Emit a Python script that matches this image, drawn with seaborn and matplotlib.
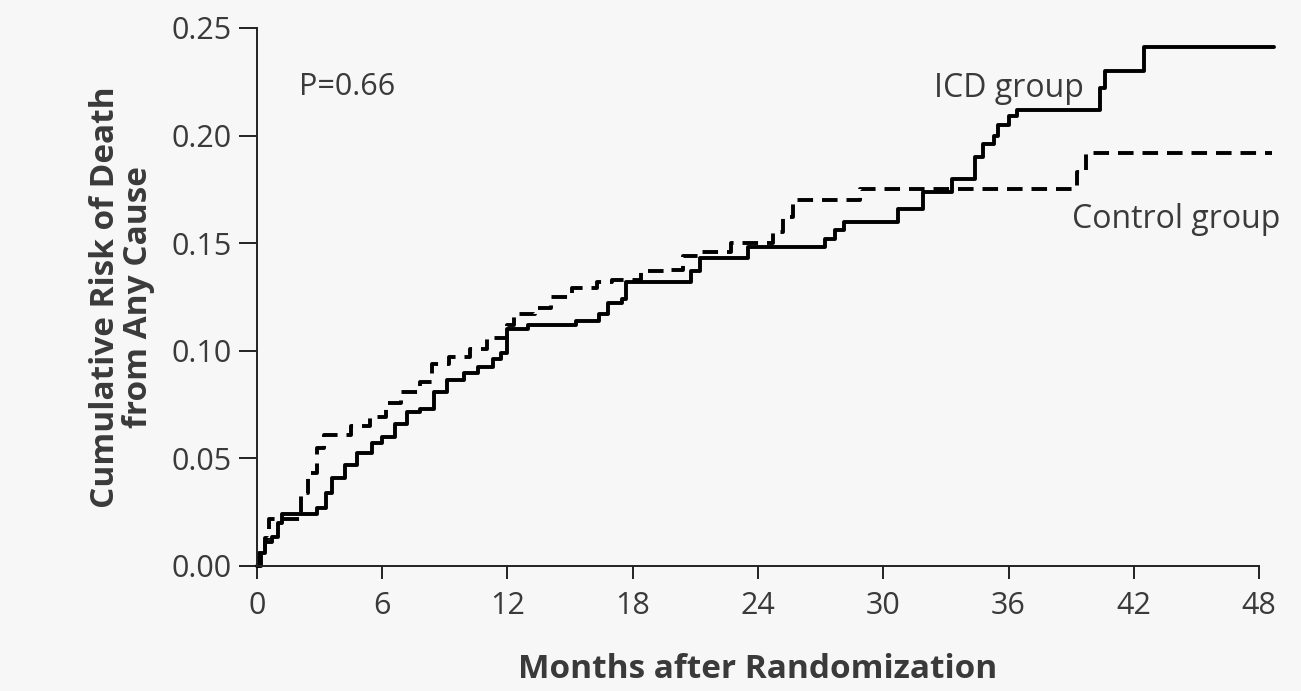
import numpy as np
import pandas as pd
import matplotlib
matplotlib.use("Agg")
import matplotlib.pyplot as plt
import seaborn as sns

sns.set_style("ticks")
plt.rcParams['font.family'] = ['Open Sans', 'DejaVu Sans']

# Kaplan-Meier style step data (months, cumulative risk)
icd_months = [0, 0.1, 0.4, 0.7, 1.0, 1.2, 2.9, 3.3, 3.6, 4.2, 4.8, 5.5, 6.0, 6.6,
              7.2, 7.8, 8.5, 9.1, 9.9, 10.6, 11.3, 11.7, 12.0, 13.0, 15.3, 16.4,
              16.8, 17.5, 17.7, 20.8, 21.2, 23.5, 27.2, 27.7, 28.1, 30.7, 31.9,
              33.3, 34.4, 34.8, 35.3, 35.5, 36.0, 36.4, 40.4, 40.6, 42.5, 48.7]
icd_risk = [0, 0.006, 0.011, 0.0135, 0.020, 0.024, 0.027, 0.034, 0.041, 0.047,
            0.0525, 0.057, 0.060, 0.066, 0.0716, 0.073, 0.081, 0.0865, 0.0897,
            0.0925, 0.096, 0.099, 0.110, 0.112, 0.114, 0.117, 0.122, 0.124,
            0.132, 0.137, 0.143, 0.148, 0.152, 0.156, 0.160, 0.166, 0.174,
            0.180, 0.190, 0.196, 0.200, 0.205, 0.209, 0.212, 0.222, 0.230,
            0.241, 0.241]

ctrl_months = [0, 0.2, 0.4, 0.6, 2.1, 2.45, 2.9, 3.2, 4.5, 5.4, 6.2, 6.9, 7.8,
               8.4, 9.2, 10.2, 11.0, 12.0, 12.3, 13.3, 14.1, 15.1, 16.3, 17.0,
               18.4, 19.6, 20.4, 21.2, 22.7, 24.7, 25.2, 25.7, 28.9, 39.3, 39.7,
               48.6]
ctrl_risk = [0, 0.008, 0.013, 0.022, 0.034, 0.043, 0.055, 0.061, 0.065, 0.069,
             0.0757, 0.081, 0.0855, 0.094, 0.097, 0.101, 0.106, 0.112, 0.117,
             0.120, 0.125, 0.129, 0.132, 0.133, 0.137, 0.1375, 0.144, 0.146,
             0.150, 0.155, 0.162, 0.170, 0.175, 0.183, 0.192, 0.192]

x_ticks = [0, 6, 12, 18, 24, 30, 36, 42, 48]
y_ticks = [0.00, 0.05, 0.10, 0.15, 0.20, 0.25]

text_col = '#3a3a3a'
bg = '#f7f7f7'

fig = plt.figure(figsize=(13.01, 6.91), dpi=100, facecolor=bg)
ax = fig.add_axes([0.1975, 0.181, 0.7815, 0.7785])
ax.set_facecolor(bg)

icd = pd.DataFrame({'month': icd_months, 'risk': icd_risk})
ctrl = pd.DataFrame({'month': ctrl_months, 'risk': ctrl_risk})

sns.lineplot(data=icd, x='month', y='risk', ax=ax, color='black', lw=2.8,
             drawstyle='steps-post', estimator=None, sort=False, clip_on=False)
sns.lineplot(data=ctrl, x='month', y='risk', ax=ax, color='black', lw=2.8,
             drawstyle='steps-post', estimator=None, sort=False, clip_on=False)
ax.lines[1].set_dashes((4.0, 2.3))

ax.set_xlim(0, 48.7)
ax.set_ylim(0, 0.25)
ax.set_xticks(x_ticks)
ax.set_yticks(y_ticks)
ax.set_yticklabels([f"{v:.2f}" for v in y_ticks])
ax.spines['bottom'].set_bounds(0, 48)
sns.despine(ax=ax)
for s in ('left', 'bottom'):
    ax.spines[s].set_linewidth(1.4)
    ax.spines[s].set_color('#222222')
ax.tick_params(axis='both', width=1.4, color='#222222',
               labelsize=22, labelcolor=text_col)
ax.tick_params(axis='x', length=9, pad=9)
ax.tick_params(axis='y', length=13, pad=5)

ax.set_xlabel('Months after Randomization', fontsize=24, fontweight='bold',
              color=text_col)
ax.xaxis.set_label_coords(0.5 * 48 / 48.7, -0.162)
ax.set_ylabel('Cumulative Risk of Death\nfrom Any Cause', fontsize=24,
              fontweight='bold', color=text_col, linespacing=1.0)
ax.yaxis.set_label_coords(-0.1, 0.5)

ax.text(2.0, 0.219, 'P=0.66', fontsize=22, color=text_col, va='baseline')
ax.text(39.6, 0.218, 'ICD group', fontsize=23, color=text_col, ha='right', va='baseline')
ax.text(49.0, 0.157, 'Control group', fontsize=23, color=text_col, ha='right', va='baseline')

fig.savefig('out.png', dpi=100, facecolor=bg)
